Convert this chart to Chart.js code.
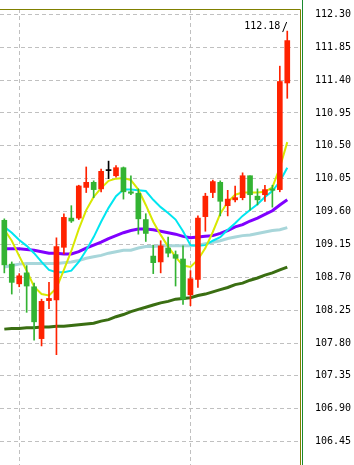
<!DOCTYPE html>
<html>
<head>
<meta charset="utf-8">
<script src="https://cdn.jsdelivr.net/npm/chart.js@4.4.0/dist/chart.umd.min.js"></script>
<style>
  html, body { margin: 0; padding: 0; background: #fff; }
  #wrap { width: 354px; height: 465px; position: relative; }
</style>
</head>
<body>
<div id="wrap"><canvas id="kline"></canvas></div>
<script>
// candles, oldest first
const opens  = [109.48,108.88,108.61,108.76,108.57,107.86,108.38,108.39,109.11,109.51,109.51,109.93,110.00,109.91,110.16,110.09,110.20,109.87,109.85,109.49,108.99,108.91,109.10,109.01,108.95,108.46,108.67,109.53,109.86,110.00,109.68,109.76,109.79,110.09,109.81,109.83,109.91,109.90,111.36];
const highs  = [109.50,108.91,108.75,108.86,108.62,108.40,108.63,109.24,109.57,109.68,109.96,110.21,110.02,110.18,110.29,110.23,110.21,110.09,109.91,109.57,109.14,109.20,109.25,109.06,109.13,108.79,109.54,109.85,110.03,110.02,109.89,109.95,110.13,110.09,109.91,109.96,109.96,111.59,112.07];
const lows   = [108.76,108.47,108.57,108.22,107.84,107.76,108.27,107.64,109.02,109.45,109.49,109.86,109.79,109.87,110.05,110.07,109.77,109.83,109.29,109.19,108.75,108.76,108.98,108.58,108.33,108.31,108.56,109.33,109.79,109.54,109.54,109.73,109.76,109.62,109.69,109.74,109.66,109.87,111.15];
const closes = [108.87,108.63,108.72,108.58,108.09,108.37,108.41,109.12,109.52,109.47,109.95,110.00,109.90,110.15,110.16,110.20,109.87,109.85,109.50,109.30,108.90,109.13,109.03,108.96,108.40,108.68,109.51,109.81,110.01,109.74,109.77,109.79,110.09,109.83,109.76,109.90,109.89,111.38,111.94];

// moving averages
const ma5   = [109.35,109.20,108.99,108.79,108.57,108.47,108.45,108.55,108.80,109.06,109.36,109.62,109.80,109.92,110.02,110.05,110.06,110.03,109.90,109.69,109.46,109.28,109.12,108.98,108.86,108.84,108.94,109.10,109.32,109.57,109.73,109.83,109.86,109.86,109.86,109.87,109.93,110.20,110.55];
const ma10  = [109.39,109.31,109.21,109.13,109.03,108.91,108.80,108.77,108.77,108.79,108.91,109.07,109.25,109.46,109.65,109.81,109.90,109.90,109.89,109.88,109.76,109.66,109.58,109.49,109.33,109.14,109.13,109.14,109.20,109.25,109.35,109.44,109.54,109.62,109.70,109.80,109.88,110.01,110.20];
const ma20  = [109.09,109.09,109.09,109.08,109.07,109.05,109.03,109.03,109.02,109.02,109.05,109.10,109.14,109.18,109.23,109.27,109.31,109.34,109.36,109.36,109.35,109.33,109.31,109.29,109.26,109.24,109.25,109.26,109.27,109.30,109.34,109.39,109.42,109.47,109.51,109.56,109.61,109.69,109.76];
const ma60  = [108.84,108.86,108.88,108.89,108.89,108.89,108.89,108.89,108.90,108.91,108.93,108.96,108.98,109.00,109.03,109.05,109.07,109.07,109.10,109.12,109.12,109.13,109.13,109.13,109.13,109.13,109.14,109.16,109.18,109.20,109.23,109.25,109.27,109.28,109.30,109.32,109.34,109.35,109.38];
const ma120 = [107.99,108.00,108.00,108.01,108.01,108.02,108.02,108.03,108.03,108.04,108.05,108.06,108.07,108.10,108.12,108.16,108.19,108.23,108.26,108.29,108.32,108.35,108.37,108.40,108.41,108.42,108.45,108.47,108.50,108.53,108.56,108.60,108.62,108.66,108.69,108.73,108.76,108.80,108.84];

const yTicks = [106.45,106.90,107.35,107.80,108.25,108.70,109.15,109.60,110.05,110.50,110.95,111.40,111.85,112.30];
const dividers = [2, 25];   // candle index of the vertical dashed lines
const peak = 112.18;

const RED = '#ff2200', GREEN = '#33b333';
const candleColor = opens.map((o, i) => closes[i] > o ? RED : closes[i] < o ? GREEN : '#000');

const idx = opens.map((_, i) => i);
const bodies = idx.map(i => ({ x: i, y: [opens[i], closes[i]] }));
const wicks = idx.map(i => ({ x: i, y: [lows[i], highs[i]] }));
const line = (arr) => arr.map((v, i) => ({ x: i, y: v }));

const maLine = (label, arr, color, width) => ({
    type: 'line', label: label, data: line(arr),
    borderColor: color, borderWidth: width,
    pointRadius: 0, tension: 0, order: 5
});

const frame = {
    id: 'frame',
    afterDraw(chart) {
        const { ctx, chartArea: a, scales: { x, y } } = chart;
        ctx.save();
        ctx.lineWidth = 1;
        ctx.strokeStyle = '#808000';
        ctx.beginPath();
        ctx.moveTo(0, a.top + 0.5);
        ctx.lineTo(a.right + 0.5, a.top + 0.5);
        ctx.lineTo(a.right + 0.5, chart.height);
        ctx.stroke();
        ctx.strokeStyle = '#1b8a2e';
        ctx.beginPath();
        ctx.moveTo(a.right + 2.5, 0);
        ctx.lineTo(a.right + 2.5, chart.height);
        ctx.stroke();

        // max price marker
        const px = x.getPixelForValue(highs.length - 1);
        const py = y.getPixelForValue(peak);
        ctx.strokeStyle = '#000';
        ctx.beginPath();
        ctx.moveTo(px - 4.6, py + 9);
        ctx.lineTo(px - 0.6, py - 1);
        ctx.stroke();
        ctx.fillStyle = '#000';
        ctx.font = '10px "DejaVu Sans Mono"';
        ctx.textAlign = 'right';
        ctx.textBaseline = 'middle';
        ctx.fillText(peak.toFixed(2), px - 7, py + 3.5);
        ctx.restore();
    }
};

new Chart(document.getElementById('kline'), {
    type: 'bar',
    data: {
        datasets: [
            {
                label: 'wick', data: wicks, backgroundColor: candleColor,
                barThickness: 1, grouped: false, order: 1
            },
            {
                label: 'body', data: bodies, backgroundColor: candleColor,
                barThickness: 5, minBarLength: 1, grouped: false, order: 0
            },
            maLine('MA5', ma5, '#d8e800', 2),
            maLine('MA10', ma10, '#00e6f0', 2),
            maLine('MA20', ma20, '#8000ff', 3),
            maLine('MA60', ma60, '#a8d6da', 3),
            maLine('MA120', ma120, '#3a6e12', 3)
        ]
    },
    plugins: [frame],
    options: {
        responsive: true,
        maintainAspectRatio: false,
        animation: false,
        layout: { padding: { top: 9, left: 0, right: 0, bottom: 0 } },
        plugins: { legend: { display: false }, tooltip: { enabled: false } },
        scales: {
            x: {
                type: 'linear', min: -0.58, max: 39.71, offset: false,
                grid: { offset: false, color: '#c0c0c0', drawTicks: false },
                border: { display: false, dash: [4, 3] },
                ticks: { display: false },
                afterBuildTicks: s => { s.ticks = dividers.map(v => ({ value: v })); },
                afterFit: s => { s.height = 0; s.paddingLeft = 0; s.paddingRight = 0; }
            },
            y: {
                position: 'right', min: 106.13, max: 112.3725,
                grid: { color: '#c0c0c0', drawTicks: false },
                border: { display: false, dash: [4, 3] },
                ticks: {
                    padding: 15, color: '#000',
                    font: { family: 'DejaVu Sans Mono', size: 10 },
                    callback: v => v.toFixed(2)
                },
                afterBuildTicks: s => { s.ticks = yTicks.map(v => ({ value: v })); },
                afterFit: s => { s.width = 54; s.paddingTop = 0; s.paddingBottom = 0; }
            }
        }
    }
});
</script>
</body>
</html>
